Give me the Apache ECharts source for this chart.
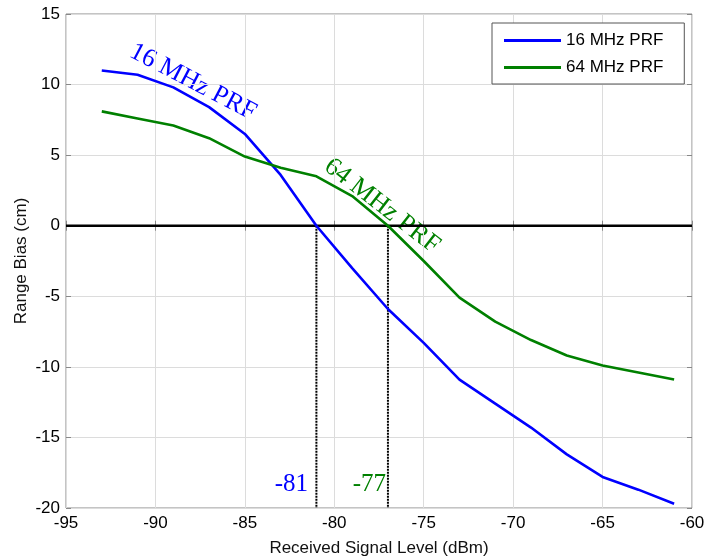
<!DOCTYPE html>
<html>
<head>
<meta charset="utf-8">
<script src="https://cdn.jsdelivr.net/npm/echarts@6/dist/echarts.min.js"></script>
<style>
  html, body { margin: 0; padding: 0; background: #fff; }
  #chart { width: 707px; height: 559px; }
</style>
</head>
<body>
<div id="chart"></div>
<script>
const signalLevels = [-93, -91, -89, -87, -85, -83, -81, -79, -77, -75, -73, -71, -69, -67, -65, -63, -61]
const bias16 = [11.0, 10.7, 9.8, 8.4, 6.5, 3.6, 0, -3.0, -5.9, -8.3, -10.9, -12.6, -14.3, -16.2, -17.8, -18.7, -19.7]
const bias64 = [8.1, 7.6, 7.1, 6.2, 4.9, 4.1, 3.5, 2.1, 0, -2.5, -5.1, -6.8, -8.1, -9.2, -9.9, -10.4, -10.9]
const crossings = [-81, -77]

const font = 'Liberation Sans, Arial, Helvetica, sans-serif'
const serif = 'Liberation Serif, Times New Roman, serif'

const chart = echarts.init(document.getElementById('chart'))

function pairs(xs, ys) {
  return xs.map((x, i) => [x, ys[i]])
}

chart.setOption({
  animation: false,
  backgroundColor: '#fff',
  grid: {
    left: 66, right: 15, top: 14, bottom: 51,
    outerBoundsMode: 'none',
    show: true, borderColor: '#888', borderWidth: 1
  },
  legend: {
    orient: 'vertical',
    left: 492, top: 23,
    padding: [9, 21, 8, 12],
    itemGap: 10,
    icon: 'rect',
    itemWidth: 57, itemHeight: 3,
    backgroundColor: '#fff',
    borderColor: '#555', borderWidth: 1,
    textStyle: { fontFamily: font, fontSize: 17, color: '#000' },
    data: ['16 MHz PRF', '64 MHz PRF']
  },
  xAxis: [{
    type: 'value', min: -95, max: -60, interval: 5,
    name: 'Received Signal Level (dBm)',
    nameLocation: 'middle', nameGap: 32,
    nameTextStyle: { fontFamily: font, fontSize: 17, color: '#111' },
    axisLine: { show: false },
    axisTick: { inside: true, length: 5, lineStyle: { color: '#888' } },
    axisLabel: { margin: 7, fontFamily: font, fontSize: 17, color: '#000' },
    splitLine: { lineStyle: { color: '#dcdcdc', width: 1 } }
  }, {
    type: 'value', min: -95, max: -60, interval: 5, position: 'top',
    axisLine: { show: false },
    axisTick: { inside: true, length: 5, lineStyle: { color: '#888' } },
    axisLabel: { show: false }, splitLine: { show: false }
  }],
  yAxis: [{
    type: 'value', min: -20, max: 15, interval: 5,
    name: 'Range Bias (cm)',
    nameLocation: 'middle', nameGap: 36, nameMoveOverlap: false,
    nameTextStyle: { fontFamily: font, fontSize: 17, color: '#111' },
    axisLine: { show: false },
    axisTick: { inside: true, length: 5, lineStyle: { color: '#888' } },
    axisLabel: { margin: 6, fontFamily: font, fontSize: 17, color: '#000' },
    splitLine: { lineStyle: { color: '#dcdcdc', width: 1 } }
  }, {
    type: 'value', min: -20, max: 15, interval: 5, position: 'right',
    axisLine: { show: false },
    axisTick: { inside: true, length: 5, lineStyle: { color: '#888' } },
    axisLabel: { show: false }, splitLine: { show: false }
  }],
  series: [{
    type: 'line', silent: true, symbol: 'none',
    data: [[-95, 0], [-60, 0]],
    lineStyle: { color: '#000', width: 2.5 },
    z: 3
  }, ...crossings.map(x => ({
    type: 'line', silent: true, symbol: 'none',
    data: [[x, 0], [x, -20]],
    lineStyle: { color: '#000', width: 2, type: [2, 1] },
    z: 3
  })), {
    name: '16 MHz PRF', type: 'line', symbol: 'none',
    data: pairs(signalLevels, bias16),
    lineStyle: { color: '#0000ff', width: 2.6 },
    itemStyle: { color: '#0000ff' },
    z: 5
  }, {
    name: '64 MHz PRF', type: 'line', symbol: 'none',
    data: pairs(signalLevels, bias64),
    lineStyle: { color: '#008000', width: 2.6 },
    itemStyle: { color: '#008000' },
    z: 5
  }],
  graphic: [{
    type: 'text', x: 193, y: 82, rotation: -0.48,
    style: { text: '16 MHz PRF', fill: '#0000ff', font: '26px ' + serif, align: 'center', verticalAlign: 'middle' }
  }, {
    type: 'text', x: 382, y: 206, rotation: -0.66,
    style: { text: '64 MHz PRF', fill: '#008000', font: '26px ' + serif, align: 'center', verticalAlign: 'middle' }
  }, {
    type: 'text', x: 308, y: 484,
    style: { text: String(crossings[0]), fill: '#0000ff', font: '25px ' + serif, align: 'right', verticalAlign: 'middle' }
  }, {
    type: 'text', x: 386, y: 484,
    style: { text: String(crossings[1]), fill: '#008000', font: '25px ' + serif, align: 'right', verticalAlign: 'middle' }
  }]
})
</script>
</body>
</html>
